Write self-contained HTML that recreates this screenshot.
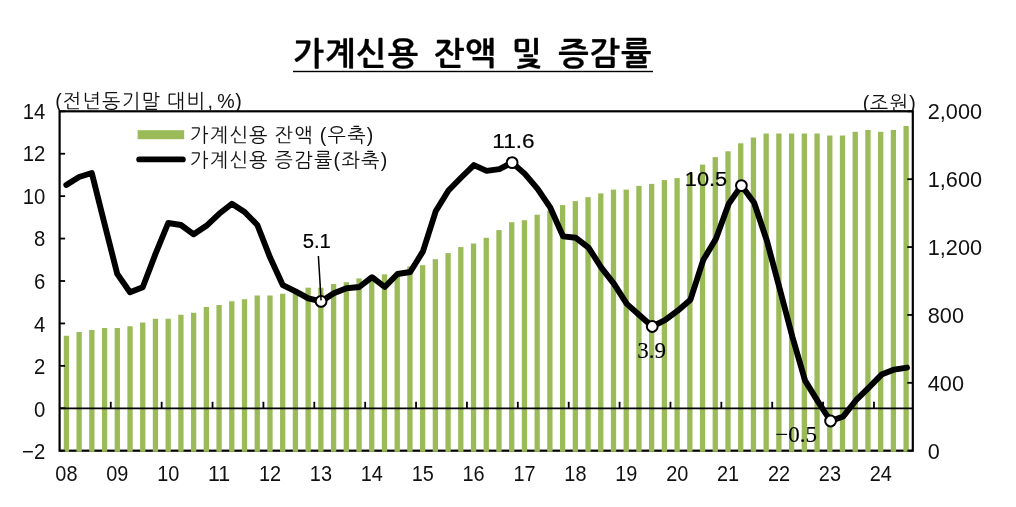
<!DOCTYPE html>
<html lang="ko">
<head>
<meta charset="utf-8">
<title>가계신용 잔액 및 증감률</title>
<style>
html,body{margin:0;padding:0;background:#fff;}
body{width:1016px;height:507px;overflow:hidden;}
svg{display:block;}
.ax{font-family:"Liberation Sans", "NanumGothic", "Noto Sans CJK KR", sans-serif;font-size:22px;fill:#111;}
.kr{font-family:"Liberation Sans", "NanumGothic", "Noto Sans CJK KR", sans-serif;font-size:19.6px;fill:#111;letter-spacing:1.28px;word-spacing:-1px;}
.ttl{font-family:"Liberation Sans", "NanumGothic", "Noto Sans CJK KR", sans-serif;font-size:32.2px;font-weight:bold;fill:#000;stroke:#000;stroke-width:0.3px;letter-spacing:1.1px;word-spacing:5.0px;}
.dl{font-family:"Liberation Sans", sans-serif;font-size:20.7px;fill:#000;stroke:#000;stroke-width:0.2px;}
.ds{font-family:"Liberation Serif", "Noto Serif CJK SC", serif;font-size:23px;fill:#000;stroke:#000;stroke-width:0.1px;}
</style>
</head>
<body>
<svg width="1016" height="507" viewBox="0 0 1016 507">
<defs><clipPath id="cu"><rect x="0" y="0" width="1016" height="111"/></clipPath></defs>
<rect x="0" y="0" width="1016" height="507" fill="#ffffff"/>
<text class="ttl" x="293.6" y="64.7" xml:space="preserve">가계신용 잔액 및 증감률</text>
<rect x="293" y="70.8" width="360" height="1.4" fill="#000"/>
<rect x="59.6" y="111.3" width="853.2" height="339.4" fill="none" stroke="#000" stroke-width="2.2"/>
<g fill="#9bbb59">
<rect x="63.75" y="335.75" width="5.3" height="116.05"/>
<rect x="76.47" y="332.00" width="5.3" height="119.80"/>
<rect x="89.20" y="330.00" width="5.3" height="121.80"/>
<rect x="101.92" y="328.00" width="5.3" height="123.80"/>
<rect x="114.64" y="328.00" width="5.3" height="123.80"/>
<rect x="127.37" y="326.25" width="5.3" height="125.55"/>
<rect x="140.09" y="322.50" width="5.3" height="129.30"/>
<rect x="152.81" y="318.75" width="5.3" height="133.05"/>
<rect x="165.53" y="318.75" width="5.3" height="133.05"/>
<rect x="178.26" y="314.75" width="5.3" height="137.05"/>
<rect x="190.98" y="312.75" width="5.3" height="139.05"/>
<rect x="203.70" y="307.00" width="5.3" height="144.80"/>
<rect x="216.43" y="305.00" width="5.3" height="146.80"/>
<rect x="229.15" y="301.25" width="5.3" height="150.55"/>
<rect x="241.87" y="299.25" width="5.3" height="152.55"/>
<rect x="254.59" y="295.50" width="5.3" height="156.30"/>
<rect x="267.32" y="295.50" width="5.3" height="156.30"/>
<rect x="280.04" y="293.75" width="5.3" height="158.05"/>
<rect x="292.76" y="292.20" width="5.3" height="159.60"/>
<rect x="305.49" y="287.70" width="5.3" height="164.10"/>
<rect x="318.21" y="287.70" width="5.3" height="164.10"/>
<rect x="330.93" y="284.00" width="5.3" height="167.80"/>
<rect x="343.66" y="282.20" width="5.3" height="169.60"/>
<rect x="356.38" y="278.40" width="5.3" height="173.40"/>
<rect x="369.10" y="276.40" width="5.3" height="175.40"/>
<rect x="381.83" y="274.40" width="5.3" height="177.40"/>
<rect x="394.55" y="272.70" width="5.3" height="179.10"/>
<rect x="407.27" y="266.40" width="5.3" height="185.40"/>
<rect x="419.99" y="265.20" width="5.3" height="186.60"/>
<rect x="432.72" y="259.20" width="5.3" height="192.60"/>
<rect x="445.44" y="253.10" width="5.3" height="198.70"/>
<rect x="458.16" y="247.10" width="5.3" height="204.70"/>
<rect x="470.89" y="243.50" width="5.3" height="208.30"/>
<rect x="483.61" y="237.80" width="5.3" height="214.00"/>
<rect x="496.33" y="230.10" width="5.3" height="221.70"/>
<rect x="509.06" y="222.20" width="5.3" height="229.60"/>
<rect x="521.78" y="220.20" width="5.3" height="231.60"/>
<rect x="534.50" y="214.70" width="5.3" height="237.10"/>
<rect x="547.22" y="210.70" width="5.3" height="241.10"/>
<rect x="559.95" y="205.10" width="5.3" height="246.70"/>
<rect x="572.67" y="201.10" width="5.3" height="250.70"/>
<rect x="585.39" y="197.20" width="5.3" height="254.60"/>
<rect x="598.12" y="193.40" width="5.3" height="258.40"/>
<rect x="610.84" y="189.60" width="5.3" height="262.20"/>
<rect x="623.56" y="189.60" width="5.3" height="262.20"/>
<rect x="636.29" y="185.90" width="5.3" height="265.90"/>
<rect x="649.01" y="183.90" width="5.3" height="267.90"/>
<rect x="661.73" y="180.10" width="5.3" height="271.70"/>
<rect x="674.45" y="178.10" width="5.3" height="273.70"/>
<rect x="687.18" y="174.00" width="5.3" height="277.80"/>
<rect x="699.90" y="164.60" width="5.3" height="287.20"/>
<rect x="712.62" y="157.10" width="5.3" height="294.70"/>
<rect x="725.35" y="151.30" width="5.3" height="300.50"/>
<rect x="738.07" y="143.30" width="5.3" height="308.50"/>
<rect x="750.79" y="137.50" width="5.3" height="314.30"/>
<rect x="763.51" y="133.50" width="5.3" height="318.30"/>
<rect x="776.24" y="133.50" width="5.3" height="318.30"/>
<rect x="788.96" y="133.50" width="5.3" height="318.30"/>
<rect x="801.68" y="133.50" width="5.3" height="318.30"/>
<rect x="814.41" y="133.50" width="5.3" height="318.30"/>
<rect x="827.13" y="135.50" width="5.3" height="316.30"/>
<rect x="839.85" y="135.50" width="5.3" height="316.30"/>
<rect x="852.58" y="131.80" width="5.3" height="320.00"/>
<rect x="865.30" y="130.00" width="5.3" height="321.80"/>
<rect x="878.02" y="131.80" width="5.3" height="320.00"/>
<rect x="890.75" y="130.00" width="5.3" height="321.80"/>
<rect x="903.47" y="126.00" width="5.3" height="325.80"/>
</g>
<line x1="59.6" y1="408.4" x2="912.8" y2="408.4" stroke="#000" stroke-width="1.9"/>
<g stroke="#000" stroke-width="1.8">
<line x1="110.78" y1="408.4" x2="110.78" y2="401.79999999999995"/>
<line x1="161.66" y1="408.4" x2="161.66" y2="401.79999999999995"/>
<line x1="212.54" y1="408.4" x2="212.54" y2="401.79999999999995"/>
<line x1="263.42" y1="408.4" x2="263.42" y2="401.79999999999995"/>
<line x1="314.30" y1="408.4" x2="314.30" y2="401.79999999999995"/>
<line x1="365.18" y1="408.4" x2="365.18" y2="401.79999999999995"/>
<line x1="416.06" y1="408.4" x2="416.06" y2="401.79999999999995"/>
<line x1="466.94" y1="408.4" x2="466.94" y2="401.79999999999995"/>
<line x1="517.82" y1="408.4" x2="517.82" y2="401.79999999999995"/>
<line x1="568.70" y1="408.4" x2="568.70" y2="401.79999999999995"/>
<line x1="619.58" y1="408.4" x2="619.58" y2="401.79999999999995"/>
<line x1="670.46" y1="408.4" x2="670.46" y2="401.79999999999995"/>
<line x1="721.34" y1="408.4" x2="721.34" y2="401.79999999999995"/>
<line x1="772.22" y1="408.4" x2="772.22" y2="401.79999999999995"/>
<line x1="823.10" y1="408.4" x2="823.10" y2="401.79999999999995"/>
<line x1="873.98" y1="408.4" x2="873.98" y2="401.79999999999995"/>
<line x1="59.6" y1="450.70" x2="65.1" y2="450.70"/>
<line x1="59.6" y1="408.27" x2="65.1" y2="408.27"/>
<line x1="59.6" y1="365.85" x2="65.1" y2="365.85"/>
<line x1="59.6" y1="323.43" x2="65.1" y2="323.43"/>
<line x1="59.6" y1="281.00" x2="65.1" y2="281.00"/>
<line x1="59.6" y1="238.57" x2="65.1" y2="238.57"/>
<line x1="59.6" y1="196.15" x2="65.1" y2="196.15"/>
<line x1="59.6" y1="153.73" x2="65.1" y2="153.73"/>
<line x1="59.6" y1="111.30" x2="65.1" y2="111.30"/>
<line x1="912.8" y1="450.70" x2="907.3" y2="450.70"/>
<line x1="912.8" y1="382.82" x2="907.3" y2="382.82"/>
<line x1="912.8" y1="314.94" x2="907.3" y2="314.94"/>
<line x1="912.8" y1="247.06" x2="907.3" y2="247.06"/>
<line x1="912.8" y1="179.18" x2="907.3" y2="179.18"/>
<line x1="912.8" y1="111.30" x2="907.3" y2="111.30"/>
</g>
<polyline points="66.30,185.00 79.04,177.00 91.78,173.00 104.51,223.75 117.25,273.90 129.99,292.20 142.73,287.20 155.47,253.90 168.20,223.00 180.94,225.00 193.68,234.30 206.42,225.80 219.16,213.80 231.89,203.80 244.63,212.00 257.37,225.00 270.11,257.60 282.85,285.20 295.58,291.40 308.32,298.40 321.06,301.40 333.80,293.20 346.54,288.20 359.27,287.00 372.01,277.20 384.75,287.00 397.49,274.00 410.23,272.00 422.96,251.40 435.70,211.30 448.44,190.50 461.18,177.50 473.92,165.10 486.65,170.90 499.39,169.10 512.13,162.60 524.87,173.90 537.61,188.90 550.34,207.70 563.08,236.40 575.82,237.80 588.56,247.60 601.30,267.60 614.03,283.90 626.77,303.90 639.51,315.20 652.25,326.50 664.99,320.20 677.72,310.70 690.46,299.70 703.20,260.10 715.94,238.80 728.68,203.90 741.41,185.60 754.15,202.70 766.89,240.80 779.63,288.60 792.37,336.80 805.10,380.60 817.84,401.40 830.58,421.00 843.32,416.40 856.06,400.20 868.79,387.60 881.53,374.60 894.27,369.60 907.01,367.60" fill="none" stroke="#000" stroke-width="5.9" stroke-linejoin="round" stroke-linecap="round"/>
<circle cx="321.06" cy="301.40" r="5.4" fill="#fff" stroke="#000" stroke-width="2.0"/>
<circle cx="512.13" cy="162.60" r="5.4" fill="#fff" stroke="#000" stroke-width="2.0"/>
<circle cx="652.25" cy="326.50" r="5.4" fill="#fff" stroke="#000" stroke-width="2.0"/>
<circle cx="741.41" cy="185.60" r="5.4" fill="#fff" stroke="#000" stroke-width="2.0"/>
<circle cx="830.58" cy="421.00" r="5.4" fill="#fff" stroke="#000" stroke-width="2.0"/>
<line x1="318.4" y1="256" x2="321.1" y2="300.4" stroke="#000" stroke-width="1.5"/>
<text class="ax" x="45.3" y="459.30" text-anchor="end" textLength="23.21" lengthAdjust="spacingAndGlyphs">−2</text>
<text class="ax" x="45.3" y="416.72" text-anchor="end" textLength="11.32" lengthAdjust="spacingAndGlyphs">0</text>
<text class="ax" x="45.3" y="374.15" text-anchor="end" textLength="11.32" lengthAdjust="spacingAndGlyphs">2</text>
<text class="ax" x="45.3" y="331.57" text-anchor="end" textLength="11.32" lengthAdjust="spacingAndGlyphs">4</text>
<text class="ax" x="45.3" y="289.00" text-anchor="end" textLength="11.32" lengthAdjust="spacingAndGlyphs">6</text>
<text class="ax" x="45.3" y="246.42" text-anchor="end" textLength="11.32" lengthAdjust="spacingAndGlyphs">8</text>
<text class="ax" x="45.3" y="203.85" text-anchor="end" textLength="22.64" lengthAdjust="spacingAndGlyphs">10</text>
<text class="ax" x="45.3" y="161.27" text-anchor="end" textLength="22.64" lengthAdjust="spacingAndGlyphs">12</text>
<text class="ax" x="45.3" y="118.70" text-anchor="end" textLength="22.64" lengthAdjust="spacingAndGlyphs">14</text>
<text class="ax" x="927.8" y="459.30" textLength="12.05" lengthAdjust="spacingAndGlyphs">0</text>
<text class="ax" x="927.8" y="391.20" textLength="36.16" lengthAdjust="spacingAndGlyphs">400</text>
<text class="ax" x="927.8" y="323.10" textLength="36.16" lengthAdjust="spacingAndGlyphs">800</text>
<text class="ax" x="927.8" y="255.00" textLength="54.24" lengthAdjust="spacingAndGlyphs">1,200</text>
<text class="ax" x="927.8" y="186.90" textLength="54.24" lengthAdjust="spacingAndGlyphs">1,600</text>
<text class="ax" x="927.8" y="118.80" textLength="54.24" lengthAdjust="spacingAndGlyphs">2,000</text>
<text class="ax" x="66.40" y="481" text-anchor="middle" textLength="22.15" lengthAdjust="spacingAndGlyphs">08</text>
<text class="ax" x="117.30" y="481" text-anchor="middle" textLength="22.15" lengthAdjust="spacingAndGlyphs">09</text>
<text class="ax" x="168.20" y="481" text-anchor="middle" textLength="22.15" lengthAdjust="spacingAndGlyphs">10</text>
<text class="ax" x="219.10" y="481" text-anchor="middle" textLength="22.15" lengthAdjust="spacingAndGlyphs">11</text>
<text class="ax" x="270.00" y="481" text-anchor="middle" textLength="22.15" lengthAdjust="spacingAndGlyphs">12</text>
<text class="ax" x="320.90" y="481" text-anchor="middle" textLength="22.15" lengthAdjust="spacingAndGlyphs">13</text>
<text class="ax" x="371.80" y="481" text-anchor="middle" textLength="22.15" lengthAdjust="spacingAndGlyphs">14</text>
<text class="ax" x="422.70" y="481" text-anchor="middle" textLength="22.15" lengthAdjust="spacingAndGlyphs">15</text>
<text class="ax" x="473.60" y="481" text-anchor="middle" textLength="22.15" lengthAdjust="spacingAndGlyphs">16</text>
<text class="ax" x="524.50" y="481" text-anchor="middle" textLength="22.15" lengthAdjust="spacingAndGlyphs">17</text>
<text class="ax" x="575.40" y="481" text-anchor="middle" textLength="22.15" lengthAdjust="spacingAndGlyphs">18</text>
<text class="ax" x="626.30" y="481" text-anchor="middle" textLength="22.15" lengthAdjust="spacingAndGlyphs">19</text>
<text class="ax" x="677.20" y="481" text-anchor="middle" textLength="22.15" lengthAdjust="spacingAndGlyphs">20</text>
<text class="ax" x="728.10" y="481" text-anchor="middle" textLength="22.15" lengthAdjust="spacingAndGlyphs">21</text>
<text class="ax" x="779.00" y="481" text-anchor="middle" textLength="22.15" lengthAdjust="spacingAndGlyphs">22</text>
<text class="ax" x="829.90" y="481" text-anchor="middle" textLength="22.15" lengthAdjust="spacingAndGlyphs">23</text>
<text class="ax" x="880.80" y="481" text-anchor="middle" textLength="22.15" lengthAdjust="spacingAndGlyphs">24</text>
<text class="kr" x="55.3" y="107.6" clip-path="url(#cu)" dx="0 -0.5 0 0 0 0 0 0 0 1.2 0 -2.8 -0.5">(전년동기말 대비, %)</text>
<text class="kr" x="862.8" y="109.6" dx="0 -0.8 0 0" clip-path="url(#cu)">(조원)</text>
<rect x="137.6" y="130.2" width="46.6" height="9" fill="#9bbb59"/>
<line x1="139.2" y1="159.4" x2="182.8" y2="159.4" stroke="#000" stroke-width="5.9" stroke-linecap="round"/>
<text class="kr" x="190" y="141.8">가계신용 잔액 (우축)</text>
<text class="kr" x="190" y="166.9">가계신용 증감률(좌축)</text>
<text class="dl" x="316.8" y="247.8" text-anchor="middle" textLength="28.21" lengthAdjust="spacingAndGlyphs">5.1</text>
<text class="dl" x="513.5" y="147.9" text-anchor="middle" textLength="42.31" lengthAdjust="spacingAndGlyphs">11.6</text>
<text class="dl" x="706.0" y="185.8" text-anchor="middle" textLength="42.31" lengthAdjust="spacingAndGlyphs">10.5</text>
<text class="ds" x="651.5" y="358.2" text-anchor="middle">3.9</text>
<text class="ds" x="796.2" y="442" text-anchor="middle">−0.5</text>
</svg>
</body>
</html>
